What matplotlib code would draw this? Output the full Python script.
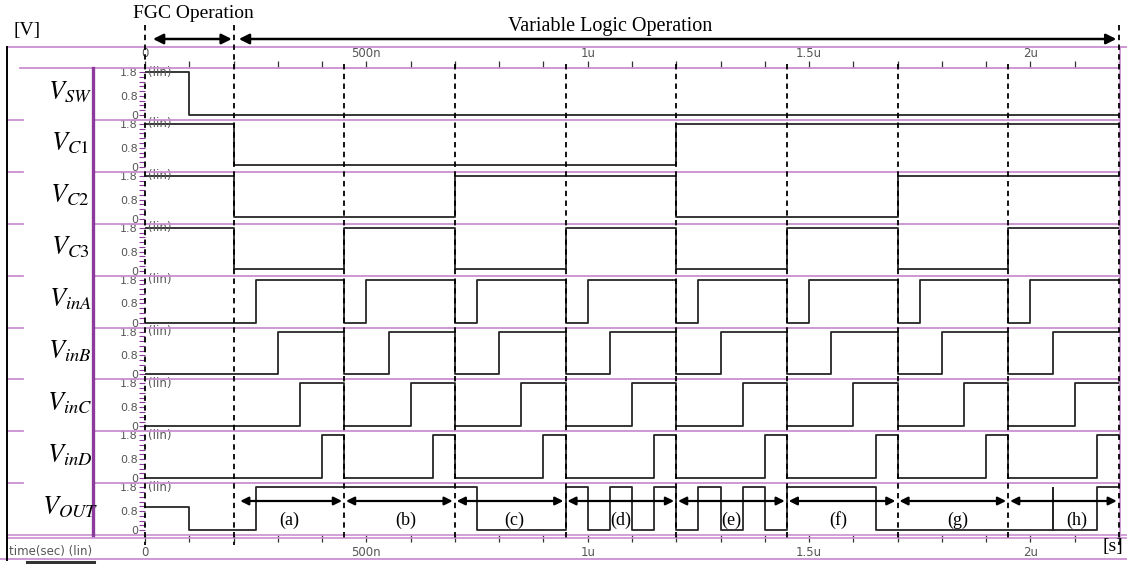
import numpy as np
import matplotlib
matplotlib.use("Agg")
import matplotlib.pyplot as plt
from matplotlib.ticker import MultipleLocator, FixedLocator


# ===================== Data (times in ns, levels in V) =====================
SIGNAL_NAMES = [r"$V_{SW}$", r"$V_{C1}$", r"$V_{C2}$", r"$V_{C3}$",
                r"$V_{inA}$", r"$V_{inB}$", r"$V_{inC}$", r"$V_{inD}$",
                r"$V_{OUT}$"]

VSW_T = [0, 100, 2200]
VSW_V = [1.8, 0.0, 0.0]

VC1_T = [0, 200, 1200, 2200]
VC1_V = [1.8, 0.08, 1.8, 1.8]

VC2_T = [0, 200, 700, 1200, 1700, 2200]
VC2_V = [1.8, 0.08, 1.8, 0.08, 1.8, 1.8]

VC3_T = [0, 200, 450, 700, 950, 1200, 1450, 1700, 1950, 2200]
VC3_V = [1.8, 0.08, 1.8, 0.08, 1.8, 0.08, 1.8, 0.08, 1.8, 1.8]

VINA_T = [0, 250, 450, 500, 700, 750, 950, 1000, 1200, 1250, 1450, 1500,
          1700, 1750, 1950, 2000, 2200]
VINA_V = [0, 1.8, 0, 1.8, 0, 1.8, 0, 1.8, 0, 1.8, 0, 1.8, 0, 1.8, 0, 1.8, 1.8]

VINB_T = [0, 300, 450, 550, 700, 800, 950, 1050, 1200, 1300, 1450, 1550,
          1700, 1800, 1950, 2050, 2200]
VINB_V = [0, 1.8, 0, 1.8, 0, 1.8, 0, 1.8, 0, 1.8, 0, 1.8, 0, 1.8, 0, 1.8, 1.8]

VINC_T = [0, 350, 450, 600, 700, 850, 950, 1100, 1200, 1350, 1450, 1600,
          1700, 1850, 1950, 2100, 2200]
VINC_V = [0, 1.8, 0, 1.8, 0, 1.8, 0, 1.8, 0, 1.8, 0, 1.8, 0, 1.8, 0, 1.8, 1.8]

VIND_T = [0, 400, 450, 650, 700, 900, 950, 1150, 1200, 1400, 1450, 1650,
          1700, 1900, 1950, 2150, 2200]
VIND_V = [0, 1.8, 0, 1.8, 0, 1.8, 0, 1.8, 0, 1.8, 0, 1.8, 0, 1.8, 0, 1.8, 1.8]

VOUT_T = [0, 100, 250, 750, 950, 1000, 1050, 1100, 1150, 1200, 1250, 1300,
          1350, 1400, 1450, 1650, 2050, 2050, 2150, 2200]
VOUT_V = [0.95, 0, 1.8, 0, 1.8, 0, 1.8, 0, 1.8, 0, 1.8, 0, 1.8, 0, 1.8, 0,
          1.75, 0, 1.8, 1.8]

SIGNALS = [(VSW_T, VSW_V), (VC1_T, VC1_V), (VC2_T, VC2_V), (VC3_T, VC3_V),
           (VINA_T, VINA_V), (VINB_T, VINB_V), (VINC_T, VINC_V),
           (VIND_T, VIND_V), (VOUT_T, VOUT_V)]

# operation boundaries and case labels
FGC_END = 200
SEG_EDGES = [200, 450, 700, 950, 1200, 1450, 1700, 1950, 2200]
CASE_LABELS = ["(a)", "(b)", "(c)", "(d)", "(e)", "(f)", "(g)", "(h)"]

X_TICKS = [0, 500, 1000, 1500, 2000]
X_TICK_LABELS = ["0", "500n", "1u", "1.5u", "2u"]
Y_TICKS = [0, 0.8, 1.8]
Y_TICK_LABELS = ["0", "0.8", "1.8"]


# ===================== Layout / style =====================
W, H = 1127, 564
X0_PX = 145              # pixel of t = 0
PX_PER_NS = 974 / 2200
PANEL_TOP = 68
PANEL_H = 51.9
RIGHT_PX = 1120

SEP_COLOR = "#c98fd0"
THICK_PURPLE = "#8c3a9c"
TICK_GRAY = "#555555"
WAVE_COLOR = "#262626"
SERIF = "Liberation Serif"
SANS = "DejaVu Sans"
DASH = (0, (3, 2.4))
LABEL_SHIFT = [0, 15, 10, 0, 0, -10, 10, 30]   # ns nudges for case labels

plt.rcParams["mathtext.fontset"] = "stix"


def rect(x0, y0, x1, y1):
    return [x0 / W, 1 - y1 / H, (x1 - x0) / W, (y1 - y0) / H]


def px_to_t(px):
    return (px - X0_PX) / PX_PER_NS


fig = plt.figure(figsize=(W / 100, H / 100), dpi=100)

# ---- waveform panels ----
t_max = px_to_t(RIGHT_PX)
n = len(SIGNALS)
panels = []
for i, (t, v) in enumerate(SIGNALS):
    top = PANEL_TOP + i * PANEL_H
    ax = fig.add_axes(rect(X0_PX, top, RIGHT_PX, top + PANEL_H))
    ax.set_facecolor("none")
    ax.step(t, v, where="post", color=WAVE_COLOR, lw=1.3)
    ax.set_xlim(0, t_max)
    ax.set_ylim(-0.21, 1.97)
    for s in ax.spines.values():
        s.set_visible(False)

    ax.set_yticks(Y_TICKS)
    ax.set_yticklabels(Y_TICK_LABELS)
    ax.yaxis.set_minor_locator(FixedLocator(np.arange(0.2, 1.8, 0.2)))
    ax.tick_params(axis="y", which="both", direction="out", length=4,
                   color=THICK_PURPLE, width=0.8, pad=1,
                   labelsize=8, labelcolor=TICK_GRAY)
    for lab in ax.get_yticklabels():
        lab.set_family(SANS)
    ax.text(0.003, 1.8, "(lin)", transform=ax.get_yaxis_transform(),
            fontsize=8.5, color=TICK_GRAY, family=SANS, va="center", ha="left")

    if i == 0 or i == n - 1:
        ax.set_xticks(X_TICKS)
        ax.set_xticklabels(X_TICK_LABELS)
        ax.xaxis.set_minor_locator(MultipleLocator(100))
        ax.tick_params(axis="x", which="both", direction="out", length=5,
                       color="#333333", width=0.9, labelsize=8.5,
                       labelcolor=TICK_GRAY, pad=3 if i else 0.5)
        for lab in ax.get_xticklabels():
            lab.set_family(SANS)
        if i == 0:
            ax.xaxis.set_ticks_position("top")
        else:
            ax.xaxis.set_ticks_position("bottom")
    else:
        ax.set_xticks([])
    panels.append(ax)

# ---- pixel overlay for frame decorations ----
deco = fig.add_axes([0, 0, 1, 1])
deco.set_xlim(0, W)
deco.set_ylim(H, 0)
deco.axis("off")
deco.set_zorder(5)

deco.plot([7, W], [47, 47], color=SEP_COLOR, lw=1.3)
deco.plot([20, RIGHT_PX], [PANEL_TOP, PANEL_TOP], color=SEP_COLOR, lw=1.3)
for i in range(1, n):
    y = PANEL_TOP + i * PANEL_H
    deco.plot([7, 23], [y, y], color=SEP_COLOR, lw=1.3)
    deco.plot([93, RIGHT_PX], [y, y], color=SEP_COLOR, lw=1.3)
bottom = PANEL_TOP + n * PANEL_H
deco.plot([7, W], [bottom, bottom], color=SEP_COLOR, lw=1.2)
deco.plot([7, W], [bottom + 2.5, bottom + 2.5], color=SEP_COLOR, lw=1.2)
deco.plot([0, W], [559, 559], color=SEP_COLOR, lw=1.3)
deco.plot([RIGHT_PX, RIGHT_PX], [47, bottom + 3], color=SEP_COLOR, lw=1.3)
deco.plot([93, 93], [PANEL_TOP, bottom], color=THICK_PURPLE, lw=2.4)
deco.plot([7, 7], [47, 560], color="black", lw=1.4)
deco.plot([27, 94], [562, 562], color="#333333", lw=2.2)

for i, name in enumerate(SIGNAL_NAMES):
    yc = PANEL_TOP + (i + 0.5) * PANEL_H - 2
    deco.text(70, yc, name, fontsize=19, ha="center", va="center")

deco.text(27, 31, "[V]", fontsize=14, family=SERIF, ha="center", va="center")
deco.text(1113, 546, "[s]", fontsize=14, family=SERIF, ha="center", va="center")
deco.text(9, 551, "time(sec) (lin)", fontsize=8.5, family=SANS,
          color=TICK_GRAY, ha="left", va="center")

# ---- time overlay: dashed markers, arrows, case labels ----
ov = fig.add_axes([0, 0, 1, 1])
ov.set_xlim(px_to_t(0), px_to_t(W))
ov.set_ylim(H, 0)
ov.axis("off")
ov.set_zorder(6)

for te in [0] + SEG_EDGES:
    if te in (0, FGC_END, SEG_EDGES[-1]):
        y0, y1 = 25, 545
    else:
        y0, y1 = 64, 540
    ov.plot([te, te], [y0, y1], color="black", lw=1.3, ls=DASH)

arrow_top = dict(arrowstyle="<|-|>", mutation_scale=15, lw=1.8,
                 color="black", shrinkA=0, shrinkB=0)
ov.annotate("", xy=(FGC_END - 4, 39), xytext=(18, 39), arrowprops=arrow_top)
ov.annotate("", xy=(SEG_EDGES[-1] - 6, 39), xytext=(FGC_END + 12, 39),
            arrowprops=arrow_top)
ov.text(FGC_END / 2 + 10, 14, "FGC Operation", fontsize=14, family=SERIF,
        ha="center", va="center")
ov.text(1050, 26, "Variable Logic Operation",
        fontsize=14.5, family=SERIF, ha="center", va="center")

arrow_seg = dict(arrowstyle="<|-|>", mutation_scale=12, lw=1.6,
                 color="black", shrinkA=0, shrinkB=0)
for k, lab in enumerate(CASE_LABELS):
    a, b = SEG_EDGES[k], SEG_EDGES[k + 1]
    start = a + (15 if k == 0 else 4)
    ov.annotate("", xy=(b - 5, 501), xytext=(start, 501), arrowprops=arrow_seg)
    ov.text((a + b) / 2 + LABEL_SHIFT[k], 520, lab, fontsize=13,
            family=SERIF, ha="center", va="center")

fig.savefig("out.png", dpi=100)
plt.close(fig)
